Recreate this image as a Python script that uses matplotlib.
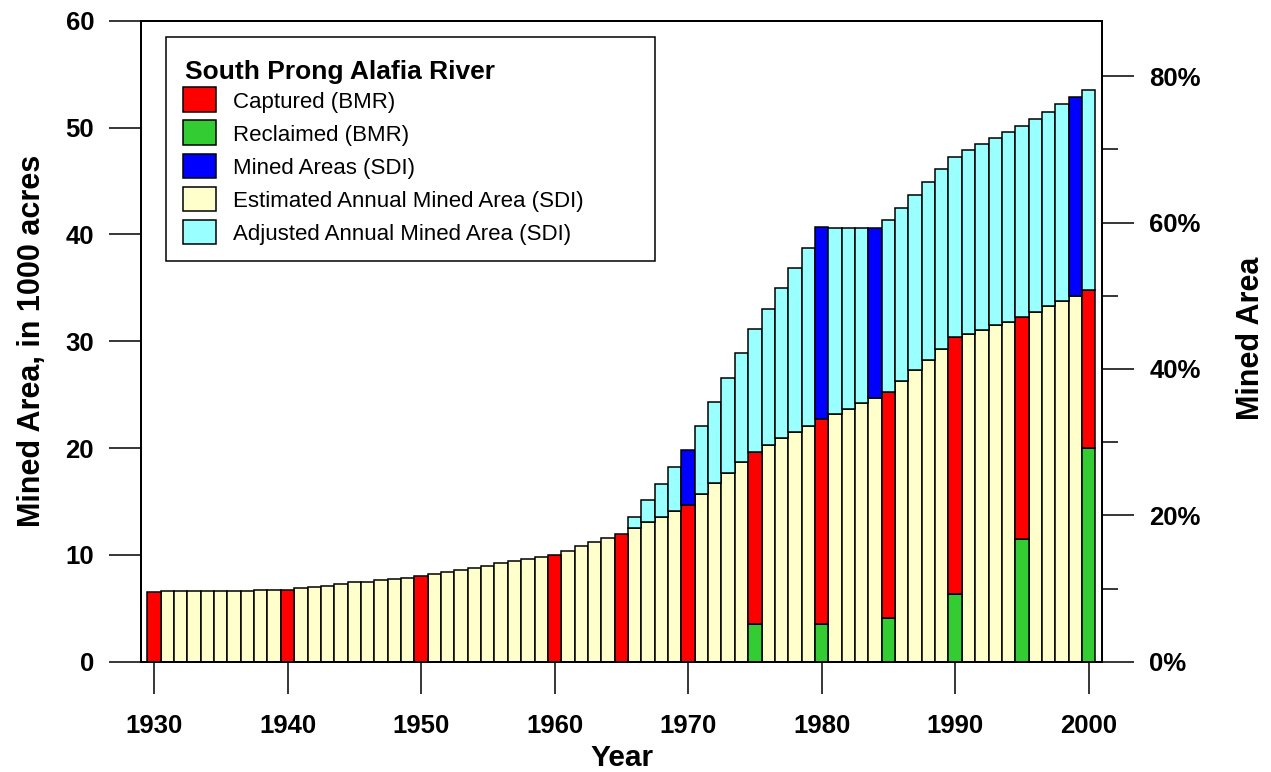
import matplotlib
matplotlib.use("Agg")
import matplotlib.pyplot as plt
from matplotlib.patches import Rectangle
import numpy as np

# datos (miles de acres)
years = list(range(1930, 2001))
estimated = [6.56, 6.63, 6.66, 6.66, 6.66, 6.66, 6.66, 6.66, 6.69, 6.72,
             6.72, 6.88, 7.03, 7.13, 7.28, 7.44, 7.50, 7.66, 7.78, 7.88,
             8.03, 8.25, 8.41, 8.59, 8.81, 9.00, 9.25, 9.41, 9.63, 9.81,
             10.03, 10.38, 10.84, 11.22, 11.56, 11.97, 12.50, 13.06, 13.59, 14.13,
             14.69, 15.69, 16.69, 17.69, 18.69, 19.66, 20.28, 20.91, 21.53, 22.09,
             22.72, 23.19, 23.69, 24.25, 24.72, 25.22, 26.25, 27.28, 28.28, 29.31,
             30.38, 30.72, 31.09, 31.47, 31.84, 32.28, 32.75, 33.25, 33.72, 34.22,
             34.81]
adjusted_years = list(range(1966, 2001))
adjusted = [13.53, 15.09, 16.66, 18.22, 19.78, 22.03, 24.34, 26.59, 28.88, 31.16,
            33.06, 34.97, 36.84, 38.75, 40.66, 40.59, 40.59, 40.59, 40.58, 41.30,
            42.49, 43.68, 44.90, 46.08, 47.27, 47.89, 48.45, 48.99, 49.58, 50.14,
            50.80, 51.49, 52.20, 52.86, 53.55]
captured_years = [1930, 1940, 1950, 1960, 1965, 1970, 1975, 1980, 1985, 1990, 1995, 2000]
reclaimed_years = [1975, 1980, 1985, 1990, 1995, 2000]
reclaimed = [3.53, 3.53, 4.09, 6.34, 11.5, 20.0]
sdi_years = [1970, 1980, 1984, 1999]
total_area = 68.5  # area total de la cuenca para el eje en %

c_red = '#FF0000'
c_green = '#33CC33'
c_blue = '#0000FF'
c_yellow = '#FFFFCC'
c_cyan = '#99FFFF'

plt.rcParams['font.family'] = ['Liberation Sans', 'DejaVu Sans']

W, H = 1271, 772
fig = plt.figure(figsize=(W / 100, H / 100), dpi=100)

def px(x, y):
    return x / W, 1 - y / H

x0, y0 = px(141.3, 661.7)
x1, y1 = px(1102, 20.7)
ax = fig.add_axes([x0, y0, x1 - x0, y1 - y0])

est = dict(zip(years, estimated))
rec = dict(zip(reclaimed_years, reclaimed))
bar_kw = dict(width=1.0, edgecolor='black', linewidth=1.1)

# barras amarillas (años sin captura)
plain = [y for y in years if y not in captured_years]
ax.bar(plain, [est[y] for y in plain], color=c_yellow, **bar_kw)
# recuperado
ax.bar(reclaimed_years, reclaimed, color=c_green, **bar_kw)
# capturado
cap_bottom = [rec.get(y, 0) for y in captured_years]
cap_height = [est[y] - rec.get(y, 0) for y in captured_years]
ax.bar(captured_years, cap_height, bottom=cap_bottom, color=c_red, **bar_kw)
# ajustado / SDI
adj_bottom = [est[y] for y in adjusted_years]
adj_height = [a - est[y] for y, a in zip(adjusted_years, adjusted)]
adj_colors = [c_blue if y in sdi_years else c_cyan for y in adjusted_years]
ax.bar(adjusted_years, adj_height, bottom=adj_bottom, color=adj_colors, **bar_kw)

ax.set_xlim(1929.05, 2001.0)
ax.set_ylim(0, 60)
ax.set_xticks(range(1930, 2001, 10))
ax.set_yticks(range(0, 61, 10))
for s in ax.spines.values():
    s.set_linewidth(1.4)
ax.tick_params(axis='both', direction='out', length=23, width=1.1,
               labelsize=18.5, pad=11)
ax.tick_params(axis='x', pad=15)
for lab in ax.get_xticklabels() + ax.get_yticklabels():
    lab.set_fontweight('bold')

ax.set_xlabel('Year', fontsize=21.5, fontweight='bold')
ax.xaxis.set_label_coords(0.5, -0.128)
ax.set_ylabel('Mined Area, in 1000 acres', fontsize=22, fontweight='bold')
ax.yaxis.set_label_coords(-0.098, 0.5)

# eje derecho en porcentaje
ax2 = ax.twinx()
ax2.set_ylim(0, 60 / total_area * 100)
ax2.set_yticks(range(0, 81, 20))
ax2.set_yticks(range(10, 81, 20), minor=True)
ax2.set_yticklabels([f'{v}%' for v in range(0, 81, 20)])
ax2.tick_params(axis='y', which='major', direction='out', length=23, width=1.1,
                labelsize=18.5, pad=11)
ax2.tick_params(axis='y', which='minor', direction='out', length=11.5, width=1.1)
for lab in ax2.get_yticklabels():
    lab.set_fontweight('bold')
for s in ax2.spines.values():
    s.set_linewidth(1.4)
ax2.set_ylabel('Mined Area', fontsize=22, fontweight='bold', rotation=90)
ax2.yaxis.set_label_coords(1.139, 0.505)

# leyenda
lx, ly = px(165.7, 261)
rx, ry = px(655, 36.7)
fig.patches.append(Rectangle((lx, ly), rx - lx, ry - ly, transform=fig.transFigure,
                             facecolor='white', edgecolor='black', linewidth=1.1,
                             zorder=5))
fig.text(*px(185, 79.3), 'South Prong Alafia River', fontsize=19, fontweight='bold',
         va='baseline', ha='left', zorder=6)
labels = ['Captured (BMR)', 'Reclaimed (BMR)', 'Mined Areas (SDI)',
          'Estimated Annual Mined Area (SDI)', 'Adjusted Annual Mined Area (SDI)']
colors = [c_red, c_green, c_blue, c_yellow, c_cyan]
for i, (lab, col) in enumerate(zip(labels, colors)):
    cy = 99.7 + i * 33.1
    hx, hy = px(183.3, cy + 12.35)
    hx2, hy2 = px(216, cy - 12.35)
    fig.patches.append(Rectangle((hx, hy), hx2 - hx, hy2 - hy, transform=fig.transFigure,
                                 facecolor=col, edgecolor='black', linewidth=1.1, zorder=6))
    fig.text(*px(232.7, cy + 7.9), lab, fontsize=16, va='baseline', ha='left', zorder=7)

fig.savefig('out.png', dpi=100)
